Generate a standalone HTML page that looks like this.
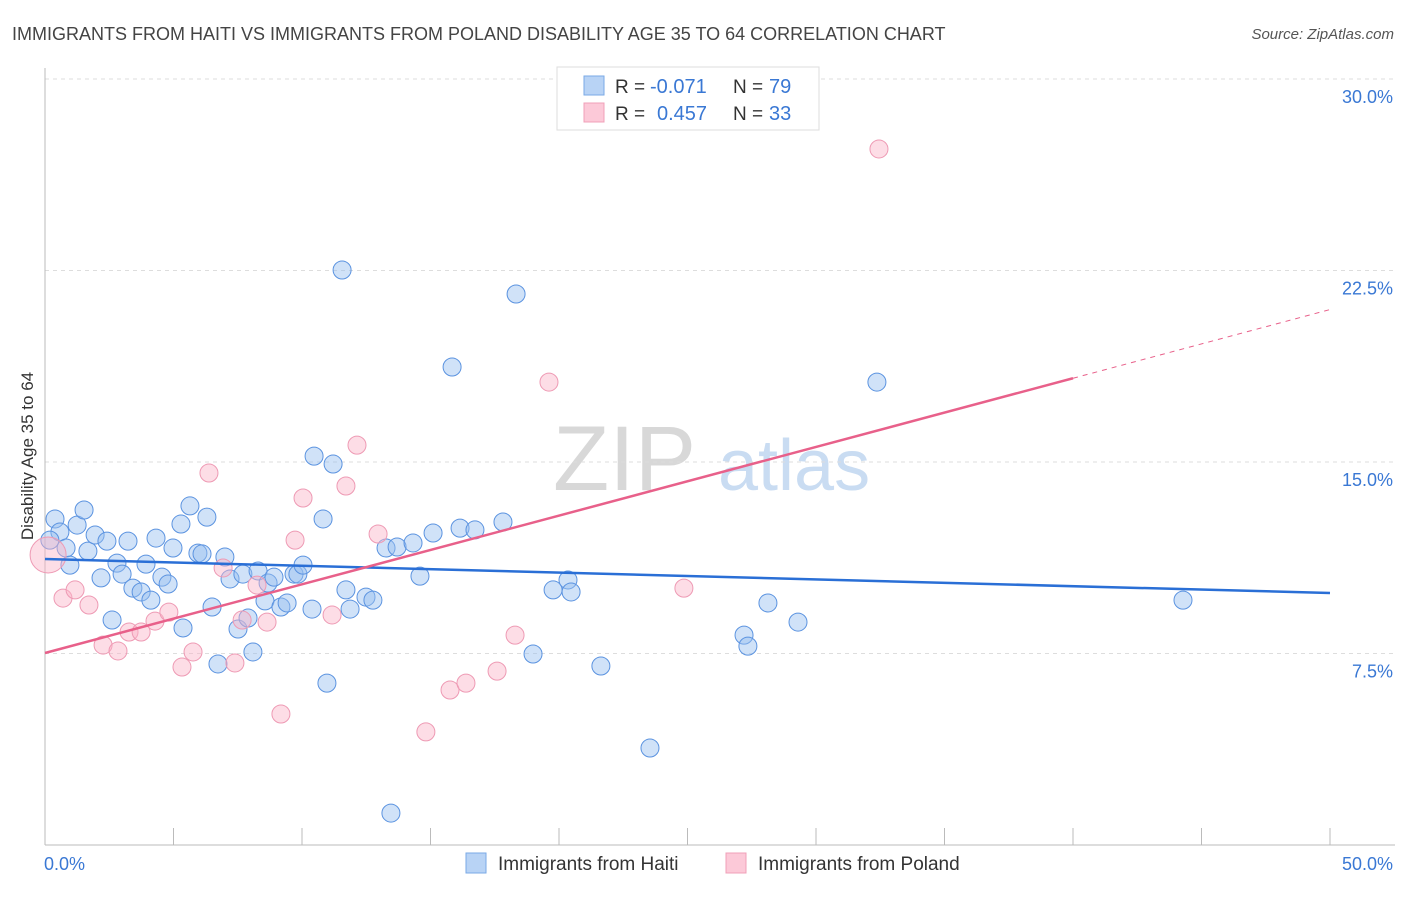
<!DOCTYPE html>
<html><head><meta charset="utf-8">
<style>
body{margin:0;background:#fff;font-family:"Liberation Sans",sans-serif;}
svg text{font-family:"Liberation Sans",sans-serif;}
</style></head>
<body>
<svg id="chart" width="1406" height="892" viewBox="0 0 1406 892" xmlns="http://www.w3.org/2000/svg">
<text x="12" y="40" font-size="18" fill="#444">IMMIGRANTS FROM HAITI VS IMMIGRANTS FROM POLAND DISABILITY AGE 35 TO 64 CORRELATION CHART</text>
<text x="1394" y="39" font-size="15" fill="#555" font-style="italic" text-anchor="end">Source: ZipAtlas.com</text>
<g>
<text x="553" y="490" font-size="92" fill="#d8d8d8" font-family="Liberation Serif,serif">ZIP</text>
<text x="718" y="490" font-size="72" fill="#c9dcf2">atlas</text>
</g>
<g id="grid"></g>
<g id="axes"></g>
<text transform="translate(33,456) rotate(-90)" font-size="17" fill="#333" text-anchor="middle">Disability Age 35 to 64</text>
<g id="pts"></g>
<g id="lines"></g>
<g>
<rect x="557" y="67" width="262" height="63" fill="#fff" stroke="#ddd"/>
<rect x="584" y="76" width="20" height="19" fill="#b8d3f5" stroke="#7aa9e6"/>
<rect x="584" y="103" width="20" height="19" fill="#fcc9d8" stroke="#f0a0b8"/>
<text x="615" y="93" font-size="19" fill="#333">R = </text><text x="650" y="93" font-size="20" fill="#3a78d4">-0.071</text>
<text x="733" y="93" font-size="19" fill="#333">N = </text><text x="769" y="93" font-size="20" fill="#3a78d4">79</text>
<text x="615" y="120" font-size="19" fill="#333">R = </text><text x="657" y="120" font-size="20" fill="#3a78d4">0.457</text>
<text x="733" y="120" font-size="19" fill="#333">N = </text><text x="769" y="120" font-size="20" fill="#3a78d4">33</text>
</g>
<g>
<rect x="466" y="853" width="20" height="20" fill="#b8d3f5" stroke="#7aa9e6"/>
<text x="498" y="870" font-size="19" fill="#333">Immigrants from Haiti</text>
<rect x="726" y="853" width="20" height="20" fill="#fcc9d8" stroke="#f0a0b8"/>
<text x="758" y="870" font-size="19" fill="#333">Immigrants from Poland</text>
</g>
</svg>
<script>
const yTicks=[7.5,15,22.5,30];
const yTickLabels=["7.5%","15.0%","22.5%","30.0%"];
const xTickVals=[0,5,10,15,20,25,30,35,40,45,50];
const xEndLabels=["0.0%","50.0%"];
const haitiX=[0.39,0.58,0.82,0.97,1.25,1.52,1.67,1.95,2.18,2.41,2.61,2.80,3.00,3.23,3.42,3.74,3.93,4.12,4.32,4.55,4.79,4.98,5.29,5.37,5.64,5.95,6.11,6.30,6.50,6.73,7.00,7.20,7.51,7.70,7.90,8.09,8.29,8.56,8.68,8.91,9.18,9.42,9.69,9.84,10.04,10.39,10.47,10.82,10.97,11.21,11.56,11.71,11.87,12.49,12.76,13.27,13.46,13.70,14.32,14.59,15.10,15.84,16.15,16.73,17.82,18.33,18.99,19.77,20.35,20.47,21.63,23.54,27.20,27.35,28.13,29.30,32.37,44.28,0.19];
const haitiY=[12.77,12.26,11.63,10.96,12.53,13.12,11.51,12.14,10.46,11.90,8.81,11.04,10.61,11.90,10.06,9.91,11.00,9.59,12.02,10.49,10.22,11.63,12.57,8.50,13.28,11.43,11.40,12.84,9.32,7.09,11.28,10.42,8.46,10.61,8.89,7.56,10.73,9.56,10.26,10.49,9.32,9.48,10.61,10.61,10.96,9.24,15.23,12.77,6.34,14.92,22.52,9.99,9.24,9.71,9.59,11.63,1.25,11.67,11.83,10.53,12.22,18.72,12.41,12.34,12.65,21.58,7.48,9.99,10.38,9.91,7.01,3.80,8.22,7.79,9.48,8.73,18.13,9.59,11.94];
const polandX=[0.12,0.70,1.17,1.71,2.26,2.84,3.27,3.74,4.28,4.82,5.33,5.76,6.38,6.93,7.39,7.67,8.25,8.64,9.18,9.73,10.04,11.17,11.71,12.14,12.96,14.82,15.76,16.38,17.59,18.29,19.61,24.86,32.45];
const polandY=[11.36,9.67,9.99,9.40,7.83,7.60,8.34,8.34,8.77,9.12,6.97,7.56,14.57,10.85,7.13,8.81,10.18,8.73,5.13,11.94,13.59,9.01,14.06,15.66,12.18,4.43,6.07,6.34,6.81,8.22,18.13,10.06,27.26];
const haitiTrend=[11.2,9.87];
const polandTrend=[7.52,0.269];

const NS="http://www.w3.org/2000/svg";
const X0=45,X1=1330,Y0=845,YTOP=79;
const sx=v=>X0+(v/50)*(X1-X0);
const sy=v=>Y0-(v/30)*(Y0-YTOP);
function mk(tag,attrs,parent){const e=document.createElementNS(NS,tag);for(const k in attrs)e.setAttribute(k,attrs[k]);parent.appendChild(e);return e;}
const grid=document.getElementById('grid'),axes=document.getElementById('axes'),pts=document.getElementById('pts'),lines=document.getElementById('lines');
yTicks.forEach((t,i)=>{
 const l=mk('line',{x1:X0,x2:1395,y1:sy(t),y2:sy(t),stroke:'#ddd','stroke-dasharray':'4,4'},grid);
 
 
 const tx=mk('text',{x:1393,y:sy(t)+24,'font-size':18,fill:'#3a78d4','text-anchor':'end'},axes);
 tx.textContent=yTickLabels[i];
 
 
});
const xa=mk('line',{x1:X0,x2:1395,y1:Y0,y2:Y0,stroke:'#bbb'},axes);


const ya=mk('line',{x1:X0,x2:X0,y1:68,y2:Y0,stroke:'#bbb'},axes);


xTickVals.forEach(v=>{
 const t=mk('line',{x1:sx(v),x2:sx(v),y1:828,y2:Y0,stroke:'#bbb'},axes);
 
 
});
[[0,'start',44],[50,'end',1393]].forEach((d,i)=>{
 const t=mk('text',{x:d[2],y:870,'font-size':18,fill:'#3a78d4','text-anchor':d[1]},axes);
 t.textContent=xEndLabels[i];
 
 
});
haitiX.forEach((x,i)=>{
 const c=mk('circle',{cx:sx(x),cy:sy(haitiY[i]),r:9,fill:'rgba(150,190,240,0.45)',stroke:'#5b93e0','stroke-width':1},pts);
 
 
});
polandX.forEach((x,i)=>{
 const c=mk('circle',{cx:sx(x),cy:sy(polandY[i]),r:i===0?18:9,fill:'rgba(250,180,200,0.45)',stroke:'#ee9ab4','stroke-width':1},pts);
 
 
});
const hl=mk('line',{x1:sx(0),y1:sy(haitiTrend[0]),x2:sx(50),y2:sy(haitiTrend[1]),stroke:'#2a6fd6','stroke-width':2.5},lines);


const pf=x=>polandTrend[0]+polandTrend[1]*x;
const pl=mk('line',{x1:sx(0),y1:sy(pf(0)),x2:sx(40),y2:sy(pf(40)),stroke:'#e8608a','stroke-width':2.5},lines);


const pd=mk('line',{x1:sx(40),y1:sy(pf(40)),x2:sx(50),y2:sy(pf(50)),stroke:'#e8608a','stroke-width':1,'stroke-dasharray':'5,5'},lines);


</script>
</body></html>
